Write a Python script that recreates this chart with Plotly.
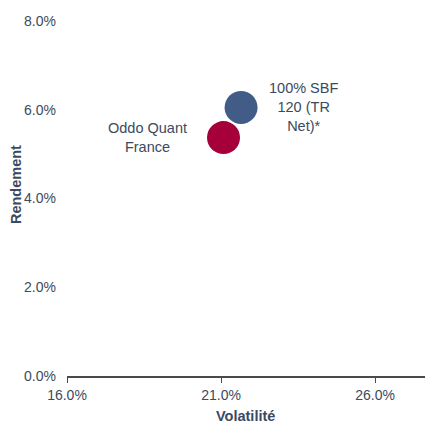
import plotly.graph_objects as go

names = ["100% SBF<br>120 (TR<br>Net)*", "Oddo Quant<br>France"]
volatility = [21.65, 21.08]
returns = [6.05, 5.37]
colors = ["#415d87", "#a6003a"]
label_shift = [62, -76]

x_ticks = [16, 21, 26]
y_ticks = [0, 2, 4, 6, 8]

text_color = "#3b4a60"
font = "Liberation Sans, Arial, sans-serif"

fig = go.Figure()
for n, x, y, c in zip(names, volatility, returns, colors):
    fig.add_trace(go.Scatter(
        x=[x], y=[y], mode="markers",
        marker=dict(size=33, color=c, line=dict(width=0)),
        showlegend=False, hoverinfo="skip"))

annotations = []
for n, x, y, s in zip(names, volatility, returns, label_shift):
    annotations.append(dict(text=n, x=x, y=y, xref="x", yref="y", xshift=s,
                            showarrow=False, align="center", xanchor="center",
                            yanchor="middle", font=dict(size=14.5, color=text_color)))

annotations.append(dict(text="<b>Rendement</b>", textangle=-90, xref="paper", yref="paper",
                        x=-0.139, y=0.525, xanchor="center", yanchor="middle", showarrow=False,
                        font=dict(size=14.5, color=text_color)))
annotations.append(dict(text="<b>Volatilité</b>", xref="paper", yref="paper",
                        x=0.489, y=-0.111, xanchor="center", yanchor="middle", showarrow=False,
                        font=dict(size=14.5, color=text_color)))

fig.update_layout(
    width=425, height=416,
    margin=dict(l=59, r=0, t=4, b=47.5, autoexpand=False),
    paper_bgcolor="white", plot_bgcolor="white",
    font=dict(family=font, size=14, color=text_color),
    xaxis=dict(range=[16, 27.88], tickvals=x_ticks,
               ticktext=[f"{v:.1f}%" for v in x_ticks],
               showgrid=False, zeroline=False, showline=True, automargin=False,
               linecolor="#4a4a4a", linewidth=1.5, ticks="outside",
               ticklen=5, tickcolor="#4a4a4a",
               tickfont=dict(size=14, color=text_color)),
    yaxis=dict(range=[0, 8.2], tickvals=y_ticks,
               ticktext=[f"{v:.1f}%" for v in y_ticks],
               showgrid=False, zeroline=False, showline=False, automargin=False,
               ticks="", tickfont=dict(size=14, color=text_color), ticklabelstandoff=10),
    annotations=annotations,
)

fig.write_html("out.html")
